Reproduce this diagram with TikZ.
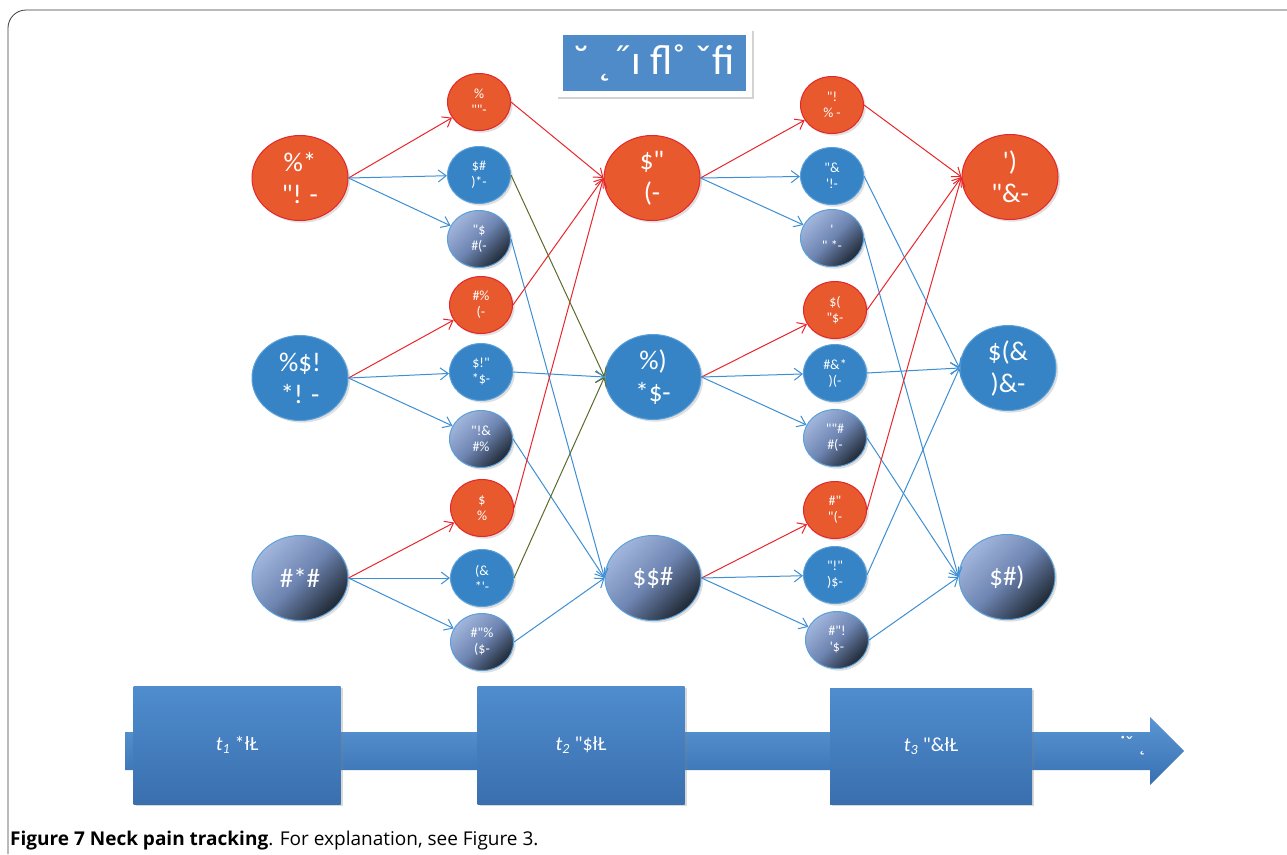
\documentclass[tikz,border=0pt]{standalone}
\usepackage{fontspec}
\newfontfamily\diagfont{Carlito}
\newfontfamily\capfont{Open Sans}
\usetikzlibrary{shapes.geometric,arrows.meta,shadows}

\definecolor{nodered}{HTML}{E85A2E}
\definecolor{edgered}{HTML}{E3262B}
\definecolor{nodeblue}{HTML}{3684C6}
\definecolor{edgeblue}{HTML}{5AA0DA}
\definecolor{gradlight}{HTML}{A2B6DC}
\definecolor{gradmid}{HTML}{6E85B2}
\definecolor{graddark}{HTML}{1F2833}
\definecolor{linered}{HTML}{E8262C}
\definecolor{lineblue}{HTML}{3D8ED3}
\definecolor{lineolive}{HTML}{5C6A2C}
\definecolor{bartop}{HTML}{5B96D3}
\definecolor{barbot}{HTML}{3770B2}
\definecolor{boxtop}{HTML}{4F8DCE}
\definecolor{boxbot}{HTML}{3A6FAE}
\definecolor{titleblue}{HTML}{4F8BC8}
\definecolor{framegray}{HTML}{3C3C3C}

\tikzset{x=1pt, y=-1pt}
\tikzset{
  state/.style={ellipse, inner sep=0pt, align=center, text=white,
    line width=1pt, drop shadow={opacity=0.25}},
  big/.style={state, minimum width=96pt, minimum height=85pt,
    font=\diagfont\fontsize{27}{32}\selectfont},
  small/.style={state, minimum width=63pt, minimum height=57pt,
    font=\diagfont\fontsize{14}{16}\selectfont},
  redst/.style={fill=nodered, draw=edgered},
  bluest/.style={fill=nodeblue, draw=edgeblue},
  gradst/.style={top color=gradlight, bottom color=graddark,
    middle color=gradmid, shading angle=45, draw=edgeblue},
  redarr/.style={draw=linered, line width=1pt, -{Straight Barb[length=8pt,width=12pt]}},
  bluearr/.style={draw=lineblue, line width=1pt, -{Straight Barb[length=8pt,width=12pt]}},
  olivearr/.style={draw=lineolive, line width=1pt, -{Straight Barb[length=8pt,width=12pt]}},
  timebox/.style={rectangle, minimum width=207pt, minimum height=118pt,
    top color=boxtop, bottom color=boxbot, text=white,
    font=\diagfont\fontsize{20}{24}\selectfont, drop shadow={opacity=0.3}}
}

\begin{document}
\begin{tikzpicture}
\useasboundingbox (0,0) rectangle (1287,854);
\draw[framegray, line width=0.8pt, rounded corners=18pt] (8,854) -- (8,10) -- (1287,10);

% title
\node[rectangle, fill=white, minimum width=196pt, minimum height=68pt,
  drop shadow={opacity=0.35}] (ttlbox) at (654,63) {};
\node[rectangle, fill=titleblue, minimum width=183pt, minimum height=56pt,
  text=white, font=\diagfont\fontsize{42}{44}\selectfont] (ttl) at (654,63) {˘ ˛˝ı ﬂ˚ ˇﬁ};

% first column
\node[big, redst] (A1) at (300,178) {\%*\\"! -};
\node[big, bluest] (A2) at (300,378) {\%\$!\\{}*! -};
\node[big, gradst] (A3) at (300,578) {\#*\#};
% second column
\node[small, redst] (B1) at (479,102) {\%\\""-};
\node[small, bluest] (B2) at (479,175) {\$\#\\)*-};
\node[small, gradst] (B3) at (479,239) {"\$\\\#(-};
\node[small, redst] (B4) at (481,305) {\#\%\\(-};
\node[small, bluest] (B5) at (481,372) {\$!"\\{}*\$-};
\node[small, gradst] (B6) at (481,439) {"!\&\\\#\%};
\node[small, redst] (B7) at (482,508) {\$\\\%};
\node[small, bluest] (B8) at (482,578) {(\&\\{}*'-};
\node[small, gradst] (B9) at (482,642) {\#"\%\\(\$-};
% third column
\node[big, redst] (C1) at (652,178) {\$"\\(-};
\node[big, bluest] (C2) at (653,377) {\%)\\{}*\$-};
\node[big, gradst] (C3) at (653,578) {\$\$\#};
% fourth column
\node[small, redst] (D1) at (832,105) {"!\\\% -};
\node[small, bluest] (D2) at (832,176) {"\&\\'!-};
\node[small, gradst] (D3) at (832,238) {'\\" *-};
\node[small, redst] (D4) at (835,310) {\$(\\"\$-};
\node[small, bluest] (D5) at (835,373) {\#\&*\\)(-};
\node[small, gradst] (D6) at (835,438) {""\#\\\#(-};
\node[small, redst] (D7) at (835,510) {\#"\\"(-};
\node[small, bluest] (D8) at (835,575) {"!"\\)\$-};
\node[small, gradst] (D9) at (837,640) {\#"!\\'\$-};
% fifth column
\node[big, redst] (E1) at (1010,177) {')\\"\&-};
\node[big, bluest] (E2) at (1008,368) {\$(\&\\)\&-};
\node[big, gradst] (E3) at (1007,577) {\$\#)};

% connectors
\foreach \i in {1,2,3} {
  \pgfmathtruncatemacro\ta{3*\i-2}
  \pgfmathtruncatemacro\tb{3*\i-1}
  \pgfmathtruncatemacro\tc{3*\i}
  \draw[redarr] (A\i.east) -- (B\ta);
  \draw[bluearr] (A\i.east) -- (B\tb);
  \draw[bluearr] (A\i.east) -- (B\tc);
  \draw[redarr] (C\i.east) -- (D\ta);
  \draw[bluearr] (C\i.east) -- (D\tb);
  \draw[bluearr] (C\i.east) -- (D\tc);
  \draw[redarr] (B\ta.east) -- (C1.west);
  \draw[bluearr] (B\tc.east) -- (C3.west);
  \draw[redarr] (D\ta.east) -- (E1.west);
  \draw[bluearr] (D\tb.east) -- (E2.west);
  \draw[bluearr] (D\tc.east) -- (E3.west);
}
\draw[olivearr] (B2.east) -- (C2.west);
\draw[bluearr] (B5.east) -- (C2.west);
\draw[olivearr] (B8.east) -- (C2.west);

% time line
\shade[top color=bartop, bottom color=barbot]
  (125,732) -- (1150,732) -- (1150,717) -- (1184,751) -- (1150,785)
  -- (1150,770) -- (125,770) -- cycle;
\node[timebox] (T1) at (237,745) {\textit{t}\textsubscript{\textit{1}} *łŁ};
\node[timebox] (T2) at (581,745) {\textit{t}\textsubscript{\textit{2}} "\$łŁ};
\node[timebox, minimum width=202pt, minimum height=116pt] (T3) at (931,746) {\textit{t}\textsubscript{\textit{3}} "\&łŁ};
\node[text=white, font=\diagfont\fontsize{22}{24}\selectfont] (fut) at (1133,746) {˙ˇ ˛};

% caption
\node[anchor=base west, inner sep=0pt, font=\capfont\fontsize{19}{22}\selectfont] (cap) at (10,845)
  {\textbf{Figure 7 Neck pain tracking}. For explanation, see Figure 3.};
\end{tikzpicture}
\end{document}
